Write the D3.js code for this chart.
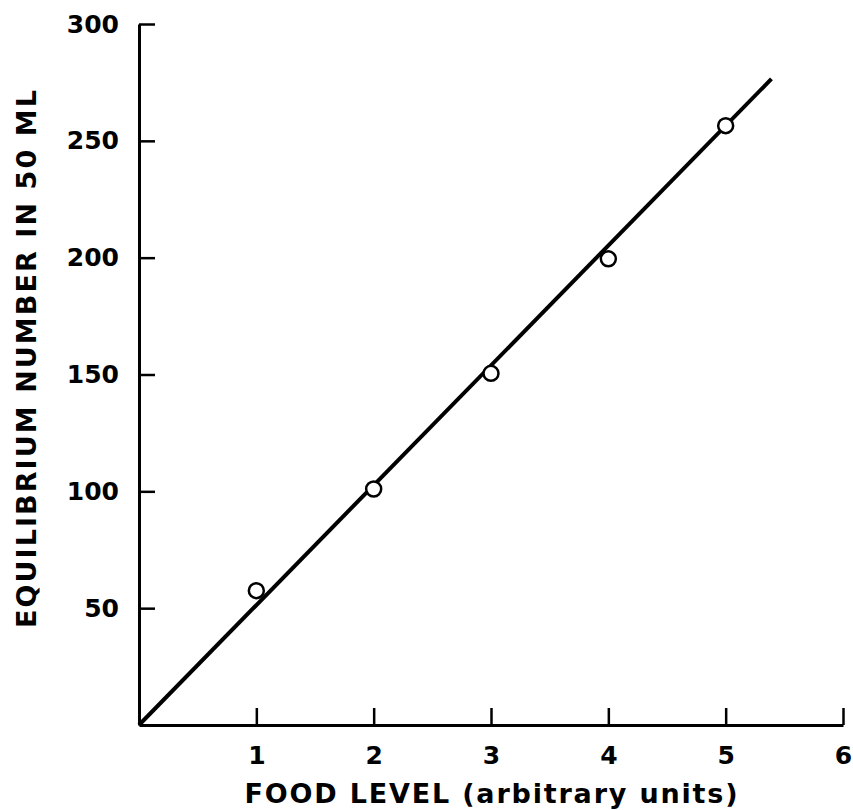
<!DOCTYPE html>
<html>
<head>
<meta charset="utf-8">
<script src="https://cdn.jsdelivr.net/npm/d3@7"></script>
<style>
  body { margin: 0; background: #fff; }
  svg { display: block; }
  .tick text { font-family: "DejaVu Sans", sans-serif; font-size: 25px; font-weight: bold; fill: #000; }
</style>
</head>
<body>
<svg width="853" height="810"></svg>
<script>
// food level vs equilibrium number
const foodLevel = [1, 2, 3, 4, 5];
const equilibrium = [57.5, 101, 150.5, 199.5, 256.5];
const fitLine = [[0, 0], [5.39, 276.5]];
const xTicks = [1, 2, 3, 4, 5, 6];
const yTicks = [50, 100, 150, 200, 250, 300];

function main() {
  const svg = d3.select("svg");

  const x = d3.scaleLinear().domain([0, 6]).range([139, 843]);
  const y = d3.scaleLinear().domain([0, 300]).range([725, 24]);

  const xAxis = svg.append("g")
    .attr("transform", `translate(0,${y(0)})`)
    .call(d3.axisBottom(x).tickValues(xTicks).tickFormat(d3.format("d"))
      .tickSizeInner(-17).tickSizeOuter(0).tickPadding(21));
  const yAxis = svg.append("g")
    .attr("transform", `translate(${x(0)},0)`)
    .call(d3.axisLeft(y).tickValues(yTicks).tickFormat(d3.format("d"))
      .tickSizeInner(-16).tickSizeOuter(0).tickPadding(20));

  [xAxis, yAxis].forEach(g => {
    g.select(".domain").attr("stroke", "#000").attr("stroke-width", 3);
    g.selectAll(".tick line").attr("stroke", "#000").attr("stroke-width", 2.5);
  });

  // fitted line through the origin
  svg.append("path")
    .datum(fitLine)
    .attr("fill", "none")
    .attr("stroke", "#000")
    .attr("stroke-width", 4)
    .attr("d", d3.line().x(d => x(d[0])).y(d => y(d[1])));

  svg.selectAll("circle")
    .data(foodLevel)
    .join("circle")
    .attr("cx", d => x(d))
    .attr("cy", (d, i) => y(equilibrium[i]))
    .attr("r", 7.5)
    .attr("fill", "#fff")
    .attr("stroke", "#000")
    .attr("stroke-width", 2.5);

  svg.append("text")
    .attr("x", 491)
    .attr("y", 803)
    .attr("text-anchor", "middle")
    .attr("textLength", 493)
    .attr("lengthAdjust", "spacing")
    .style("font-family", "DejaVu Sans, sans-serif")
    .style("font-size", "27px")
    .style("font-weight", "bold")
    .text("FOOD LEVEL (arbitrary units)");

  svg.append("text")
    .attr("transform", "translate(36,359) rotate(-90)")
    .attr("text-anchor", "middle")
    .attr("textLength", 538)
    .attr("lengthAdjust", "spacing")
    .style("font-family", "DejaVu Sans, sans-serif")
    .style("font-size", "27px")
    .style("font-weight", "bold")
    .text("EQUILIBRIUM NUMBER IN 50 ML");
}

main();
</script>
</body>
</html>
